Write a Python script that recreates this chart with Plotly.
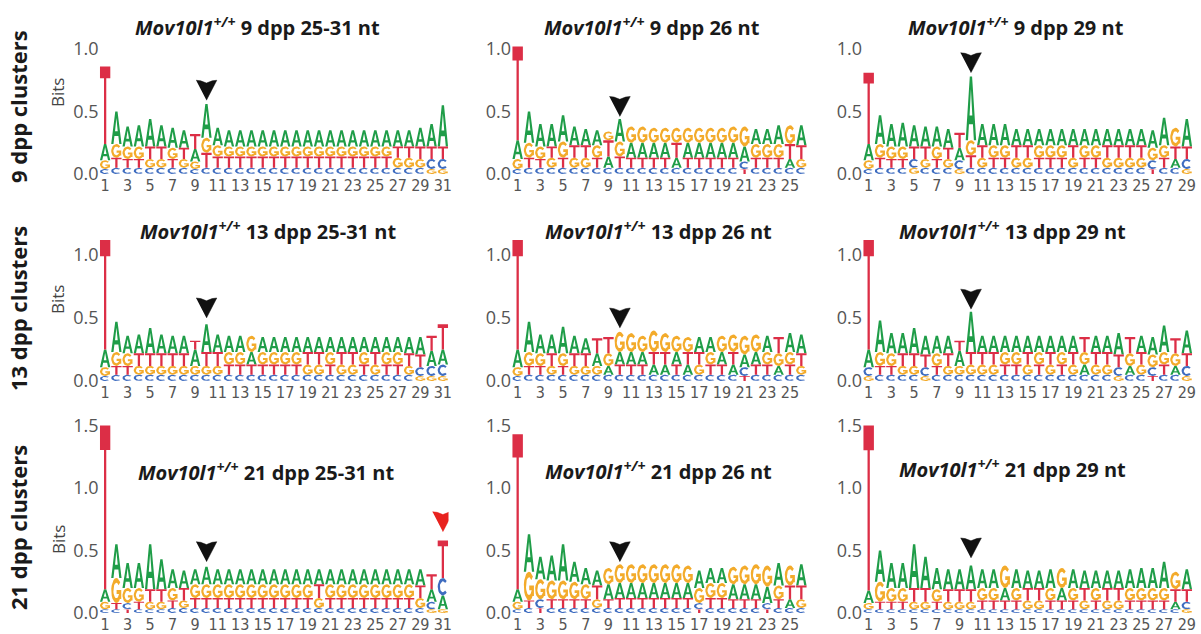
import math
import plotly.graph_objects as go

# ---------------------------------------------------------------------------
# Sequence-logo data: for every position the stacking order (bottom -> top)
# and the height (bits) of each letter in that same order.
# ---------------------------------------------------------------------------

ORDER_9_ALL = ["CGAT", "CTGA", "CTGA", "CTGA", "CGTA", "CGTA", "CTGA", "CGTA", "CGAT", "CTGA",
               "CTGA", "CTGA", "CTGA", "CTGA", "CTGA", "CTGA", "CTGA", "CTGA", "CTGA", "CTGA",
               "CTGA", "CTGA", "CTGA", "CTGA", "CTGA", "CTGA", "CGTA", "CGTA", "CGTA", "GCTA", "GCTA"]
BITS_9_ALL = [(.04, .07, .13, .62), (.05, .08, .11, .26), (.05, .07, .10, .16), (.05, .07, .10, .17),
              (.05, .07, .10, .22), (.05, .07, .10, .17), (.05, .07, .09, .16), (.05, .07, .09, .14),
              (.04, .06, .10, .12), (.05, .12, .12, .27), (.05, .09, .09, .14), (.05, .09, .08, .13),
              (.05, .09, .08, .13), (.05, .09, .08, .13), (.05, .09, .08, .13), (.05, .09, .08, .13),
              (.05, .09, .08, .13), (.05, .09, .08, .13), (.05, .09, .08, .13), (.05, .09, .08, .13),
              (.05, .09, .08, .13), (.05, .09, .08, .13), (.05, .09, .08, .13), (.05, .09, .08, .13),
              (.05, .09, .08, .13), (.05, .09, .08, .13), (.05, .08, .09, .13), (.05, .08, .09, .13),
              (.05, .07, .10, .15), (.04, .08, .10, .18), (.04, .08, .10, .33)]

ORDER_9_26 = ["CGAT", "CTGA", "CTGA", "CGTA", "CTGA", "CGTA", "CGTA", "CTGA", "CATG", "CTGA",
              "CTAG", "CTAG", "CTAG", "CTAG", "CATG", "CTAG", "CTAG", "CTAG", "CTAG", "CTAG",
              "TCAG", "CTGA", "CTGA", "CTGA", "CATG", "CGTA"]
BITS_9_26 = [(.04, .08, .15, .75), (.05, .08, .12, .25), (.05, .07, .10, .18), (.05, .08, .09, .18),
             (.05, .08, .13, .21), (.05, .08, .10, .15), (.05, .08, .10, .13), (.05, .08, .10, .12),
             (.05, .09, .13, .07), (.05, .09, .12, .18), (.05, .08, .12, .13), (.05, .08, .12, .13),
             (.05, .08, .12, .12), (.05, .08, .12, .12), (.05, .08, .12, .12), (.05, .08, .12, .12),
             (.05, .08, .12, .12), (.05, .08, .12, .12), (.05, .08, .12, .12), (.05, .08, .12, .13),
             (.04, .06, .12, .16), (.05, .08, .11, .12), (.05, .08, .11, .12), (.05, .08, .11, .15),
             (.05, .07, .12, .15), (.05, .07, .11, .16)]

ORDER_9_29 = ["CGAT", "CTGA", "CTGA", "CTGA", "GCTA", "CGTA", "CTGA", "CGTA", "GCAT", "CTGA",
              "CGTA", "CTGA", "CTGA", "CGTA", "CGTA", "CTGA", "CTGA", "CTGA", "CGTA", "CTGA",
              "CTGA", "CGTA", "CGTA", "CGTA", "CGTA", "TCGA", "CTGA", "CATG", "GCTA"]
BITS_9_29 = [(.04, .07, .13, .57), (.05, .08, .11, .23), (.05, .07, .10, .18), (.05, .07, .10, .19),
             (.05, .07, .10, .17), (.05, .07, .10, .16), (.05, .07, .10, .16), (.05, .07, .09, .15),
             (.04, .07, .10, .12), (.05, .10, .12, .51), (.05, .08, .10, .17), (.05, .08, .10, .17),
             (.05, .08, .10, .17), (.05, .08, .10, .13), (.05, .08, .10, .13), (.05, .08, .10, .13),
             (.05, .08, .10, .13), (.05, .08, .10, .13), (.05, .08, .10, .13), (.05, .08, .10, .13),
             (.05, .08, .10, .13), (.05, .08, .10, .13), (.05, .08, .10, .13), (.05, .08, .10, .13),
             (.05, .08, .10, .13), (.04, .07, .10, .14), (.05, .08, .10, .22), (.05, .07, .10, .15),
             (.04, .08, .10, .22)]

ORDER_13_ALL = ["CGAT", "CTGA", "CTGA", "CGTA", "CGTA", "CGTA", "CGTA", "CGTA", "CGAT", "CGTA",
                "CGTA", "CTGA", "CTGA", "CTAG", "CTGA", "CTGA", "CTGA", "CTGA", "CGTA", "CGTA",
                "CTGA", "CGTA", "CGTA", "CTGA", "CGTA", "CTGA", "CTGA", "CGTA", "GCTA", "GCAT", "GCAT"]
BITS_13_ALL = [(.04, .07, .14, .87), (.05, .07, .11, .24), (.05, .07, .10, .14), (.05, .07, .10, .15),
               (.05, .07, .10, .20), (.05, .07, .10, .15), (.05, .07, .10, .14), (.05, .07, .10, .14),
               (.05, .07, .13, .07), (.05, .07, .11, .22), (.05, .07, .11, .14), (.05, .08, .10, .13),
               (.05, .08, .10, .13), (.05, .08, .10, .13), (.05, .08, .10, .12), (.05, .08, .10, .12),
               (.05, .08, .10, .12), (.05, .08, .10, .12), (.05, .08, .10, .12), (.05, .08, .10, .12),
               (.05, .08, .10, .12), (.05, .08, .10, .12), (.05, .08, .10, .12), (.05, .08, .10, .12),
               (.05, .08, .10, .12), (.05, .08, .10, .12), (.05, .08, .10, .12), (.05, .07, .10, .13),
               (.04, .07, .10, .14), (.04, .08, .12, .12), (.04, .09, .12, .20)]

ORDER_13_26 = ["CGAT", "CTGA", "CTGA", "CGTA", "CTGA", "CGTA", "CGTA", "CGAT", "CAGT", "CTAG",
               "CTAG", "CTAG", "CATG", "CATG", "CTAG", "CATG", "CGTA", "CTGA", "CTAG", "CATG",
               "TCAG", "CTAG", "CTGA", "CAGT", "CTGA", "CGTA"]
BITS_13_26 = [(.04, .07, .14, .87), (.05, .07, .11, .24), (.05, .07, .10, .15), (.05, .07, .10, .15),
              (.05, .07, .10, .21), (.05, .07, .10, .14), (.05, .07, .10, .12), (.05, .07, .10, .12),
              (.05, .07, .10, .13), (.05, .08, .10, .16), (.05, .08, .10, .15), (.05, .08, .10, .13),
              (.05, .08, .10, .17), (.05, .08, .10, .15), (.05, .08, .10, .13), (.05, .08, .10, .12),
              (.05, .08, .10, .12), (.05, .08, .10, .12), (.05, .08, .10, .13), (.05, .08, .10, .14),
              (.04, .07, .10, .15), (.05, .08, .10, .14), (.05, .08, .10, .13), (.05, .07, .10, .13),
              (.05, .08, .10, .15), (.05, .07, .10, .15)]

ORDER_13_29 = ["GCAT", "CTGA", "CTGA", "CGTA", "CGTA", "GCTA", "CTGA", "CGTA", "CGAT", "CGTA",
               "CGTA", "CGTA", "CTGA", "CTGA", "CGTA", "CTGA", "CGTA", "CTGA", "CGTA", "CAGT",
               "CGTA", "CGTA", "GCTA", "CAGT", "CGTA", "TCGA", "CTGA", "CAGT", "GCTA"]
BITS_13_29 = [(.04, .07, .14, .87), (.05, .07, .11, .25), (.05, .07, .10, .16), (.05, .07, .10, .16),
              (.05, .07, .10, .20), (.04, .07, .10, .15), (.05, .07, .10, .14), (.05, .07, .10, .14),
              (.05, .07, .12, .08), (.05, .08, .10, .32), (.05, .08, .10, .13), (.05, .08, .10, .13),
              (.05, .08, .10, .13), (.05, .08, .10, .13), (.05, .08, .10, .13), (.05, .08, .10, .13),
              (.05, .08, .10, .13), (.05, .08, .10, .13), (.05, .08, .10, .13), (.05, .08, .10, .12),
              (.05, .08, .10, .13), (.05, .08, .10, .13), (.04, .07, .10, .17), (.05, .07, .10, .13),
              (.05, .08, .10, .13), (.04, .07, .10, .14), (.05, .08, .10, .21), (.05, .07, .10, .12),
              (.04, .08, .10, .18)]

ORDER_21_ALL = ["CGAT", "CTGA", "TCGA", "CTGA", "CGTA", "CGTA", "CTGA", "CGTA", "CTGA", "CTGA",
                "CTGA", "CTGA", "CTGA", "CTGA", "CTGA", "CTGA", "CTGA", "CTGA", "CTGA", "CGTA",
                "CTGA", "CTGA", "CTGA", "CTGA", "CTGA", "CTGA", "CTGA", "CTGA", "CGTA", "GCAT", "GACT"]
BITS_21_ALL = [(.03, .06, .10, 1.31), (.03, .05, .20, .27), (.03, .05, .12, .20), (.03, .06, .11, .20),
               (.03, .06, .10, .36), (.03, .06, .10, .24), (.04, .06, .10, .15), (.04, .06, .10, .14),
               (.04, .08, .11, .12), (.04, .08, .11, .14), (.04, .08, .11, .12), (.04, .08, .11, .12),
               (.04, .08, .11, .12), (.04, .08, .11, .12), (.04, .08, .11, .12), (.04, .08, .11, .12),
               (.04, .08, .11, .12), (.04, .08, .11, .12), (.04, .08, .11, .12), (.04, .08, .11, .12),
               (.04, .08, .11, .12), (.04, .08, .11, .12), (.04, .08, .11, .12), (.04, .08, .11, .12),
               (.04, .08, .11, .12), (.04, .08, .11, .12), (.04, .08, .11, .12), (.04, .08, .11, .12),
               (.04, .08, .10, .13), (.03, .06, .10, .12), (.03, .11, .14, .30)]

ORDER_21_26 = ["CGAT", "CTGA", "TCGA", "CTGA", "CTGA", "CTGA", "CTGA", "CGTA", "CTAG", "CTAG",
               "CTAG", "CTAG", "CTAG", "CTAG", "CTAG", "CTAG", "TCGA", "CTGA", "CTGA", "CTAG",
               "CTAG", "CTAG", "TCAG", "CTGA", "CATG", "CGTA"]
BITS_21_26 = [(.03, .06, .10, 1.24), (.04, .06, .23, .30), (.04, .07, .16, .18), (.04, .07, .15, .20),
              (.04, .07, .15, .29), (.04, .07, .14, .16), (.04, .07, .12, .13), (.04, .07, .11, .12),
              (.04, .07, .12, .13), (.04, .08, .12, .15), (.04, .08, .12, .15), (.04, .08, .12, .15),
              (.04, .08, .12, .15), (.04, .08, .12, .15), (.04, .08, .12, .15), (.04, .08, .12, .14),
              (.03, .05, .12, .14), (.04, .08, .12, .12), (.04, .08, .12, .12), (.04, .07, .12, .14),
              (.04, .07, .12, .15), (.04, .07, .12, .16), (.03, .05, .13, .17), (.04, .07, .11, .18),
              (.04, .07, .11, .16), (.04, .07, .11, .17)]

ORDER_21_29 = ["CGAT", "CTGA", "CTGA", "CTGA", "CGTA", "CGTA", "CTGA", "CGTA", "CGTA", "CGTA",
               "CTGA", "CTGA", "CTAG", "CTGA", "CGTA", "CGTA", "CTGA", "CTAG", "CTGA", "CGTA",
               "CTGA", "CGTA", "CGTA", "CTGA", "CTGA", "CTGA", "CTGA", "CATG", "GCTA"]
BITS_21_29 = [(.03, .05, .10, 1.32), (.03, .06, .16, .25), (.03, .06, .11, .20), (.03, .06, .11, .20),
              (.03, .06, .11, .35), (.03, .06, .11, .25), (.03, .06, .10, .17), (.03, .06, .10, .16),
              (.03, .06, .10, .16), (.03, .06, .10, .19), (.03, .07, .10, .15), (.03, .07, .10, .15),
              (.03, .07, .10, .18), (.03, .07, .10, .15), (.03, .07, .10, .14), (.03, .07, .10, .14),
              (.03, .07, .10, .15), (.03, .07, .10, .16), (.03, .07, .10, .15), (.03, .07, .10, .14),
              (.03, .07, .10, .14), (.03, .07, .10, .14), (.03, .07, .10, .14), (.03, .07, .10, .15),
              (.03, .07, .10, .16), (.03, .07, .10, .16), (.03, .07, .10, .21), (.03, .06, .10, .14),
              (.03, .06, .10, .16)]

# Panel titles (age, read length) and the marked positions
AGES = ["9", "13", "21"]
LENGTHS = ["25-31", "26", "29"]
ROW_LABELS = ["9 dpp clusters", "13 dpp clusters", "21 dpp clusters"]
ARROW_POS = 10
ARROW_TIPS = [.59, .46, .81, .50, .42, .57, .41, .41, .44]   # bits, row-major
RED_ARROW = (31, .65)                                          # 21 dpp 25-31 nt panel

ORDERS = [ORDER_9_ALL, ORDER_9_26, ORDER_9_29,
          ORDER_13_ALL, ORDER_13_26, ORDER_13_29,
          ORDER_21_ALL, ORDER_21_26, ORDER_21_29]
BITS = [BITS_9_ALL, BITS_9_26, BITS_9_29,
        BITS_13_ALL, BITS_13_26, BITS_13_29,
        BITS_21_ALL, BITS_21_26, BITS_21_29]

# ---------------------------------------------------------------------------
# Styling and page geometry (pixels of a 1201 x 634 page)
# ---------------------------------------------------------------------------
W, H = 1201, 634
LETTER_COLORS = {"A": "#1f9d48", "C": "#3f6dc0", "G": "#f3ab2b", "T": "#dc2e46"}
COL_PX = [(99.5, 448.5), (512.0, 807.0), (863.0, 1192.5)]
ROW_ZERO_PX = [174, 381, 613]
ROW_PX_PER_BIT = [125, 126, 125]
ROW_YMAX = [1.12, 1.22, 1.58]
TITLE_PX = [[(257, 27), (652, 27), (1016, 27)],
            [(268, 231), (658, 231), (1012, 231)],
            [(266, 471), (658, 470), (1012, 468)]]
ROW_LABEL_PX = [(18, 107), (18, 309), (18, 528)]
BITS_LABEL_PX = [(58, 93), (58, 300), (58, 540)]
HALF_W = 0.46  # half letter width, in position units

TITLE_FONT = "Open Sans, Liberation Sans, sans-serif"
TICK_FONT = "Open Sans, Liberation Sans, sans-serif"
NARROW_FONT = "Liberation Sans Narrow, DejaVu Sans Condensed, Arial Narrow, sans-serif"


def _arc(rx, ry, a0, a1, n=18):
    pts = []
    for k in range(n + 1):
        a = math.radians(a0 + (a1 - a0) * k / n)
        pts.append((0.5 + rx * math.cos(a), 0.5 + ry * math.sin(a)))
    return pts


def _rect(x0, y0, x1, y1):
    return [(x0, y0), (x1, y0), (x1, y1), (x0, y1)]


# Letter outlines inside a unit box; outer contours counter-clockwise,
# counters (holes) clockwise so the non-zero fill rule leaves them open.
GLYPHS = {
    "A": [[(0, 0), (0.22, 0), (0.31, 0.25), (0.69, 0.25), (0.78, 0), (1, 0), (0.61, 1), (0.39, 1)],
          [(0.37, 0.39), (0.5, 0.80), (0.63, 0.39)]],
    "T": [[(0.39, 0), (0.61, 0), (0.61, 0.85), (1, 0.85), (1, 1), (0, 1), (0, 0.85), (0.39, 0.85)]],
    "C": [_arc(0.5, 0.5, 42, 318) + _arc(0.29, 0.31, 318, 42)],
    "G": [_arc(0.5, 0.5, 42, 335) + _arc(0.29, 0.31, 335, 42),
          _rect(0.52, 0.36, 0.97, 0.52), _rect(0.76, 0.16, 0.97, 0.52)],
}


def px_x(p):
    return p / W


def px_y(p):
    return 1 - p / H


fig = go.Figure()
layout_axes = {}

for k in range(9):
    row, col = divmod(k, 3)
    sfx = "" if k == 0 else str(k + 1)
    xa, ya = "x" + sfx, "y" + sfx
    order, bits = ORDERS[k], BITS[k]
    n = len(order)

    # stacked letters, one filled trace per nucleotide colour
    xs = {L: [] for L in "ACGT"}
    ys = {L: [] for L in "ACGT"}
    for pos, (letters, heights) in enumerate(zip(order, bits), start=1):
        base = 0.0
        for L, h in zip(letters, heights):
            for poly in GLYPHS[L]:
                for u, v in poly:
                    xs[L].append(pos - HALF_W + 2 * HALF_W * u)
                    ys[L].append(base + h * v)
                xs[L].append(None)
                ys[L].append(None)
            base += h
    for L in "ACGT":
        fig.add_trace(go.Scatter(
            x=xs[L], y=ys[L], xaxis=xa, yaxis=ya, mode="lines", fill="toself",
            fillcolor=LETTER_COLORS[L], line=dict(width=0, color=LETTER_COLORS[L]),
            hoverinfo="skip", showlegend=False))

    # arrowheads marking position 10 (and the 3' end in one panel)
    ppb = ROW_PX_PER_BIT[row]
    ah = 20 / ppb          # arrow height in bits
    aw = 0.92              # arrow half width in positions
    marks = [(ARROW_POS, ARROW_TIPS[k], "#111111")]
    if k == 6:
        marks.append((RED_ARROW[0], RED_ARROW[1], "#e8221e"))
    for xpos, tip, colr in marks:
        fig.add_trace(go.Scatter(
            x=[xpos, xpos + aw, xpos + aw * 0.55, xpos, xpos - aw * 0.55, xpos - aw],
            y=[tip, tip + ah, tip + ah * 0.97, tip + ah * 0.86, tip + ah * 0.97, tip + ah],
            xaxis=xa, yaxis=ya, mode="lines", fill="toself", fillcolor=colr,
            line=dict(width=0.5, color=colr), hoverinfo="skip", showlegend=False))

    x0, x1 = COL_PX[col]
    z = ROW_ZERO_PX[row]
    ymax = ROW_YMAX[row]
    top = z - ymax * ppb
    ytv = [0, 0.5, 1.0] + ([1.5] if row == 2 else [])
    layout_axes["xaxis" + sfx] = dict(
        domain=[px_x(x0), px_x(x1)], range=[0.5, n + 0.5], anchor=ya, automargin=False,
        tickvals=list(range(1, n + 1, 2)), ticktext=[str(v) for v in range(1, n + 1, 2)],
        tickangle=0, showgrid=False, zeroline=False, showline=False, ticks="", ticklen=0,
        tickfont=dict(family=NARROW_FONT, size=16, color="#555555"), fixedrange=True)
    layout_axes["yaxis" + sfx] = dict(
        domain=[px_y(z), px_y(top)], range=[0, ymax], anchor=xa, automargin=False,
        tickvals=ytv, ticktext=["%.1f" % v for v in ytv],
        showgrid=False, zeroline=False, showline=False, ticks="", ticklen=0,
        tickfont=dict(family=TICK_FONT, size=18, color="#555555"), fixedrange=True)

annotations = []
for row in range(3):
    for col in range(3):
        tx, ty = TITLE_PX[row][col]
        annotations.append(dict(
            text="<b><i>Mov10l1</i><sup><i>+/+</i></sup> %s dpp %s nt</b>" % (AGES[row], LENGTHS[col]),
            x=px_x(tx), y=px_y(ty), xref="paper", yref="paper", xanchor="center", yanchor="middle",
            showarrow=False, font=dict(family=TITLE_FONT, size=20, color="#1a1a1a")))
    rx, ry = ROW_LABEL_PX[row]
    annotations.append(dict(
        text="<b>%s</b>" % ROW_LABELS[row], x=px_x(rx), y=px_y(ry), xref="paper", yref="paper",
        xanchor="center", yanchor="middle", textangle=-90, showarrow=False,
        font=dict(family=TITLE_FONT, size=22, color="#1a1a1a")))
    bx, by = BITS_LABEL_PX[row]
    annotations.append(dict(
        text="Bits", x=px_x(bx), y=px_y(by), xref="paper", yref="paper",
        xanchor="center", yanchor="middle", textangle=-90, showarrow=False,
        font=dict(family=TICK_FONT, size=17, color="#444444")))

fig.update_layout(
    width=W, height=H, margin=dict(l=0, r=0, t=0, b=0, autoexpand=False),
    paper_bgcolor="white", plot_bgcolor="white",
    showlegend=False, annotations=annotations, **layout_axes)

fig.write_html("out.html", config={"displayModeBar": False})
